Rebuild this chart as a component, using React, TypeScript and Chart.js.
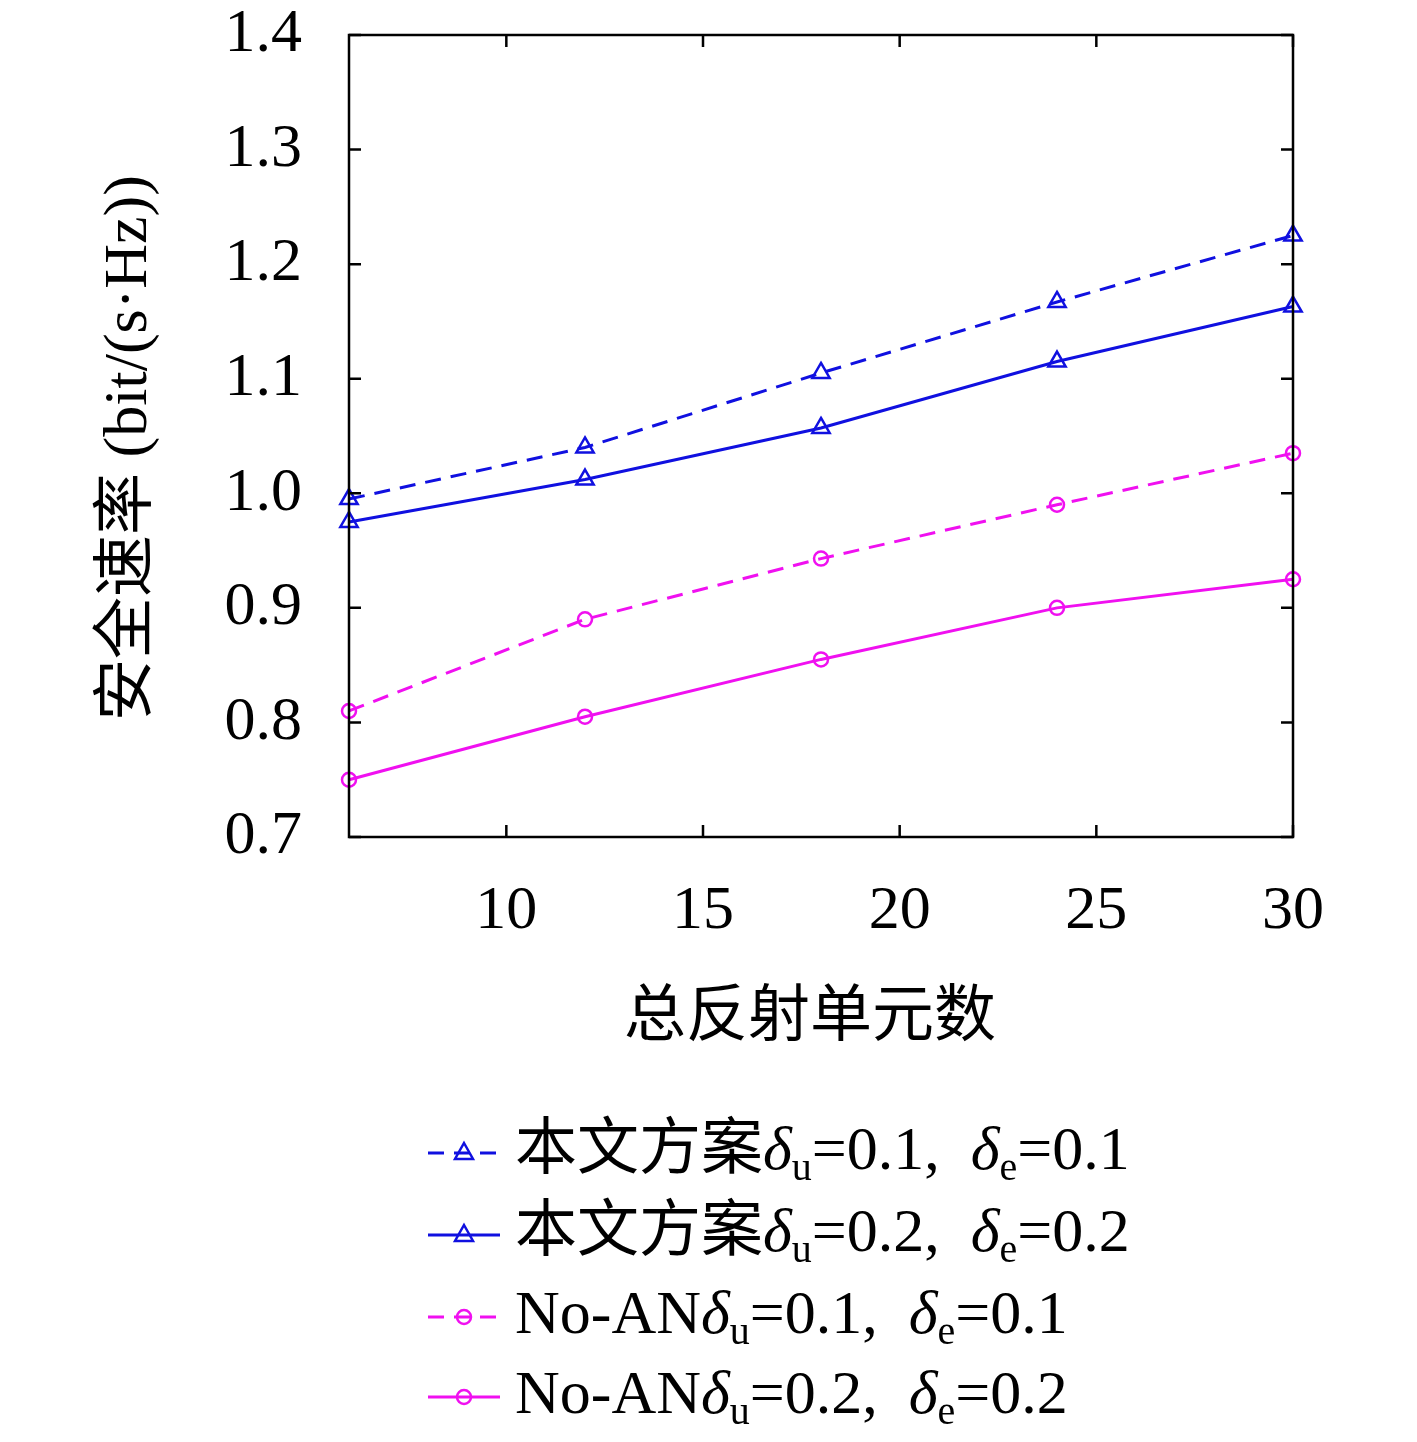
import React, { useEffect, useRef } from "react";
import { Chart, registerables } from "chart.js";
Chart.register(...registerables);

const xValues = [6, 12, 18, 24, 30];
const blueDashed = [0.995, 1.04, 1.105, 1.167, 1.225];
const blueSolid = [0.975, 1.012, 1.057, 1.115, 1.163];
const magDashed = [0.81, 0.89, 0.943, 0.99, 1.035];
const magSolid = [0.75, 0.805, 0.855, 0.9, 0.925];
const xTicks = [10, 15, 20, 25, 30];
const yTicks = [0.7, 0.8, 0.9, 1.0, 1.1, 1.2, 1.3, 1.4];
const legendItems = [
  { prefix: "本文方案", v: "0.1", color: "#1010e0", dash: true, shape: "triangle" },
  { prefix: "本文方案", v: "0.2", color: "#1010e0", dash: false, shape: "triangle" },
  { prefix: "No-AN", v: "0.1", color: "#f010f0", dash: true, shape: "circle" },
  { prefix: "No-AN", v: "0.2", color: "#f010f0", dash: false, shape: "circle" },
];

const FONT = '"Liberation Serif", "Noto Sans CJK SC", serif';

export default function App() {
  const ref = useRef<HTMLCanvasElement>(null);
  useEffect(() => {
    document.body.style.margin = "0";
    const mk = (data: number[], color: string, dash: boolean, shape: string) => ({
      data: data.map((y, i) => ({ x: xValues[i], y })),
      borderColor: color,
      backgroundColor: "transparent",
      borderWidth: 3,
      borderDash: dash ? [16, 10] : [],
      pointStyle: shape,
      pointRadius: shape === "triangle" ? 10 : 7,
      pointBorderWidth: 2.5,
      pointBorderColor: color,
      pointBackgroundColor: "transparent",
      clip: false,
    });
    const deco = {
      id: "deco",
      afterDraw(c: any) {
        const ctx = c.ctx;
        const a = c.chartArea;
        const xs = c.scales.x, ys = c.scales.y;
        ctx.save();
        ctx.strokeStyle = "#000";
        ctx.lineWidth = 2.5;
        ctx.strokeRect(a.left, a.top, a.right - a.left, a.bottom - a.top);
        ctx.fillStyle = "#000";
        ctx.font = "62px " + FONT;
        ctx.textAlign = "center";
        ctx.textBaseline = "middle";
        for (const t of xTicks) {
          const px = xs.getPixelForValue(t);
          ctx.beginPath();
          ctx.moveTo(px, a.bottom); ctx.lineTo(px, a.bottom - 12);
          ctx.moveTo(px, a.top); ctx.lineTo(px, a.top + 12);
          ctx.stroke();
          ctx.fillText(String(t), px, 912);
        }
        ctx.textAlign = "right";
        for (const t of yTicks) {
          const py = ys.getPixelForValue(t);
          ctx.beginPath();
          ctx.moveTo(a.left, py); ctx.lineTo(a.left + 12, py);
          ctx.moveTo(a.right, py); ctx.lineTo(a.right - 12, py);
          ctx.stroke();
          ctx.fillText(t.toFixed(1), 302, py);
        }
        ctx.textAlign = "center";
        ctx.font = "62px " + FONT;
        ctx.fillText("总反射单元数", 810, 1020);
        ctx.save();
        ctx.translate(130, (a.top + a.bottom) / 2 + 12);
        ctx.rotate(-Math.PI / 2);
        ctx.fillText("安全速率 (bit/(s·Hz))", 0, 0);
        ctx.restore();
        // legend
        const rows = [1153, 1235, 1317, 1397];
        legendItems.forEach((it, i) => {
          const y = rows[i];
          ctx.strokeStyle = it.color;
          ctx.lineWidth = 3;
          ctx.setLineDash(it.dash ? [16, 10] : []);
          ctx.beginPath(); ctx.moveTo(428, y); ctx.lineTo(500, y); ctx.stroke();
          ctx.setLineDash([]);
          ctx.lineWidth = 2.5;
          ctx.beginPath();
          if (it.shape === "triangle") {
            ctx.moveTo(464, y - 10); ctx.lineTo(473, y + 6); ctx.lineTo(455, y + 6); ctx.closePath();
          } else ctx.arc(464, y, 7, 0, Math.PI * 2);
          ctx.stroke();
          ctx.fillStyle = "#000";
          ctx.textAlign = "left";
          ctx.textBaseline = "middle";
          let x = 515;
          const put = (s: string, f: string, dy = 0) => {
            ctx.font = f; ctx.fillText(s, x, y + dy); x += ctx.measureText(s).width;
          };
          const big = "62px " + FONT, it62 = "italic 62px " + FONT, sm = "40px " + FONT;
          put(it.prefix, big);
          put("δ", it62); put("u", sm, 16); put("=" + it.v + ",  ", big);
          put("δ", it62); put("e", sm, 16); put("=" + it.v, big);
        });
        ctx.restore();
      },
    };
    const chart = new Chart(ref.current!, {
      type: "line",
      data: {
        datasets: [
          mk(blueDashed, "#1010e0", true, "triangle"),
          mk(blueSolid, "#1010e0", false, "triangle"),
          mk(magDashed, "#f010f0", true, "circle"),
          mk(magSolid, "#f010f0", false, "circle"),
        ] as any,
      },
      options: {
        animation: false,
        responsive: false,
        layout: { padding: { left: 0, top: 35, right: 124, bottom: 0 } },
        plugins: { legend: { display: false }, tooltip: { enabled: false } },
        scales: {
          x: {
            type: "linear", min: 6, max: 30,
            ticks: { display: false }, grid: { display: false }, border: { display: false },
            afterFit: (s: any) => { s.height = 605; },
          },
          y: {
            min: 0.7, max: 1.4,
            ticks: { display: false }, grid: { display: false }, border: { display: false },
            afterFit: (s: any) => { s.width = 349; },
          },
        },
      },
      plugins: [deco],
    });
    return () => chart.destroy();
  }, []);
  return <canvas ref={ref} width={1417} height={1442} style={{ display: "block" }} />;
}
